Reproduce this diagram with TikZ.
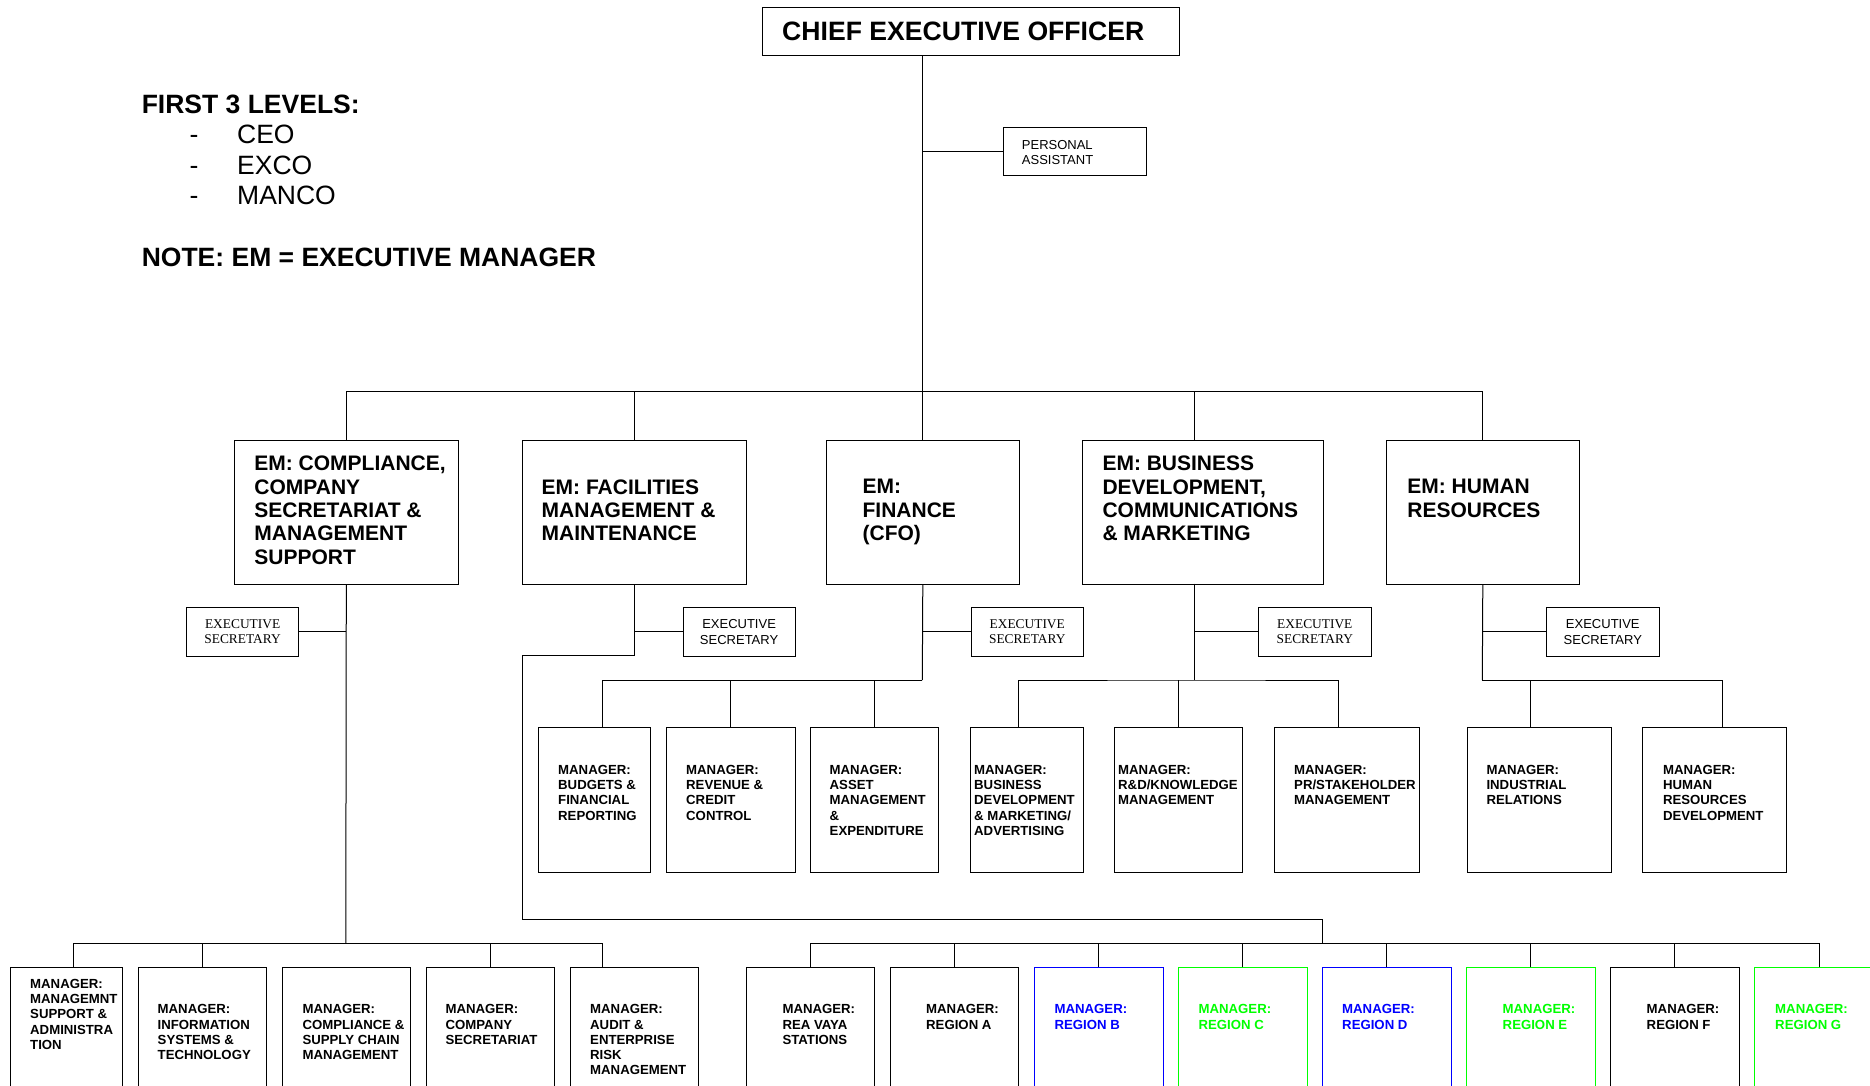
\documentclass[tikz,border=0pt]{standalone}
\usepackage{fontspec}
\setmainfont{Liberation Sans}
\newfontfamily\serifface{Liberation Serif}
\definecolor{rblue}{RGB}{0,0,255}
\definecolor{rgreen}{RGB}{0,255,0}
\tikzset{
  box/.style={draw, line width=1pt, inner sep=0pt, anchor=north west},
  lbl/.style={anchor=north west, inner sep=0pt, align=left},
  conn/.style={line width=1pt},
  mgr/.style={lbl, font=\bfseries\fontsize{13.2}{15.2}\selectfont},
  emt/.style={lbl, font=\bfseries\fontsize{21}{23.3}\selectfont},
  emb/.style={box, minimum height=144pt},
  mbox/.style={box, minimum height=144.4pt},
  bbox/.style={box, minimum height=140pt},
  secbox/.style={box, minimum height=48.3pt, align=center},
  sersec/.style={secbox, font=\serifface\fontsize{13.4}{15}\selectfont},
  sanssec/.style={secbox, font=\fontsize{13}{15.6}\selectfont},
  legbold/.style={anchor=base west, inner sep=0pt, font=\bfseries\fontsize{26.5}{30}\selectfont},
  legitem/.style={anchor=base west, inner sep=0pt, font=\fontsize{26.5}{30}\selectfont}
}
\begin{document}
\begin{tikzpicture}[x=1pt, y=-1pt]
\useasboundingbox (0,0) rectangle (1870,1086);
\clip (0,0) rectangle (1870,1086);

% ---------- legend ----------
\node[legbold] (leg1) at (141.6,113.3) {FIRST 3 LEVELS:};
\node[legitem] (leg2) at (189.5,144) {\makebox[47.5pt][l]{-}CEO};
\node[legitem] (leg3) at (189.5,174.3) {\makebox[47.5pt][l]{-}EXCO};
\node[legitem] (leg4) at (189.5,204.8) {\makebox[47.5pt][l]{-}MANCO};
\node[legbold] (leg5) at (141.6,266) {NOTE: EM = EXECUTIVE MANAGER};

% ---------- top ----------
\node[box, minimum width=417.1pt, minimum height=47.7pt] (ceo) at (761.5,7.3) {};
\node[anchor=west, inner sep=0pt, font=\bfseries\fontsize{26.6}{30}\selectfont] (ceot) at (782,31) {CHIEF EXECUTIVE OFFICER};
\node[box, minimum width=143.5pt, minimum height=48pt] (pa) at (1002.5,127) {};
\node[lbl, font=\fontsize{13}{15.5}\selectfont] (pat) at (1021.7,140) {PERSONAL\\ASSISTANT};

% ---------- executive managers ----------
\node[emb, minimum width=224.4pt] (em1) at (233.6,439.5) {};
\node[emb, minimum width=224.4pt] (em2) at (522,439.5) {};
\node[emb, minimum width=192.6pt] (em3) at (826,439.5) {};
\node[emb, minimum width=240.1pt] (em4) at (1082.4,439.5) {};
\node[emb, minimum width=193pt] (em5) at (1385.8,439.5) {};
\node[emt] (em1t) at (254.2,456) {EM: COMPLIANCE,\\COMPANY\\SECRETARIAT \&\\MANAGEMENT\\SUPPORT};
\node[emt] (em2t) at (541.5,479.3) {EM: FACILITIES\\MANAGEMENT \&\\MAINTENANCE};
\node[emt] (em3t) at (862.4,479.3) {EM:\\FINANCE\\(CFO)};
\node[emt] (em4t) at (1102.3,456) {EM: BUSINESS\\DEVELOPMENT,\\COMMUNICATIONS\\\& MARKETING};
\node[emt] (em5t) at (1407.2,479.3) {EM: HUMAN\\RESOURCES};

% ---------- executive secretaries ----------
\node[sersec, minimum width=112.6pt] (es1) at (185.8,607.3) {EXECUTIVE\\SECRETARY};
\node[sanssec, minimum width=112.2pt] (es2) at (682.5,607.3) {EXECUTIVE\\SECRETARY};
\node[sersec, minimum width=111.5pt] (es3) at (971,607.3) {EXECUTIVE\\SECRETARY};
\node[sersec, minimum width=112.6pt] (es4) at (1258,607.3) {EXECUTIVE\\SECRETARY};
\node[sanssec, minimum width=113pt] (es5) at (1545.8,607.3) {EXECUTIVE\\SECRETARY};

% ---------- middle managers ----------
\node[mbox, minimum width=112.9pt] (mb1) at (537.5,727.3) {};
\node[mbox, minimum width=128.6pt] (mb2) at (666,727.3) {};
\node[mbox, minimum width=128.2pt] (mb3) at (809.8,727.3) {};
\node[mbox, minimum width=112.6pt] (mb4) at (970,727.3) {};
\node[mbox, minimum width=127.2pt] (mb5) at (1114.3,727.3) {};
\node[mbox, minimum width=144.4pt] (mb6) at (1274.4,727.3) {};
\node[mbox, minimum width=144pt] (mb7) at (1466.7,727.3) {};
\node[mbox, minimum width=144pt] (mb8) at (1642.3,727.3) {};
\node[mgr] (mb1t) at (558,765) {MANAGER:\\BUDGETS \&\\FINANCIAL\\REPORTING};
\node[mgr] (mb2t) at (686,765) {MANAGER:\\REVENUE \&\\CREDIT\\CONTROL};
\node[mgr] (mb3t) at (829.5,765) {MANAGER:\\ASSET\\MANAGEMENT\\\&\\EXPENDITURE};
\node[mgr] (mb4t) at (974,765) {MANAGER:\\BUSINESS\\DEVELOPMENT\\\& MARKETING/\\ADVERTISING};
\node[mgr] (mb5t) at (1118,765) {MANAGER:\\R\&D/KNOWLEDGE\\MANAGEMENT};
\node[mgr] (mb6t) at (1294,765) {MANAGER:\\PR/STAKEHOLDER\\MANAGEMENT};
\node[mgr] (mb7t) at (1486.3,765) {MANAGER:\\INDUSTRIAL\\RELATIONS};
\node[mgr] (mb8t) at (1662.8,765) {MANAGER:\\HUMAN\\RESOURCES\\DEVELOPMENT};

% ---------- bottom row: compliance ----------
\node[bbox, minimum width=112pt] (b1) at (10,967.3) {};
\node[bbox, minimum width=128.6pt] (b2) at (137.7,967.3) {};
\node[bbox, minimum width=128pt] (b3) at (282,967.3) {};
\node[bbox, minimum width=128.6pt] (b4) at (425.7,967.3) {};
\node[bbox, minimum width=128pt] (b5) at (570,967.3) {};
\node[mgr] (b1t) at (30,979) {MANAGER:\\MANAGEMNT\\SUPPORT \&\\ADMINISTRA\\TION};
\node[mgr] (b2t) at (157.5,1004.5) {MANAGER:\\INFORMATION\\SYSTEMS \&\\TECHNOLOGY};
\node[mgr] (b3t) at (302.3,1004.5) {MANAGER:\\COMPLIANCE \&\\SUPPLY CHAIN\\MANAGEMENT};
\node[mgr] (b4t) at (445.4,1004.5) {MANAGER:\\COMPANY\\SECRETARIAT};
\node[mgr] (b5t) at (590,1004.5) {MANAGER:\\AUDIT \&\\ENTERPRISE\\RISK\\MANAGEMENT};

% ---------- bottom row: regions ----------
\node[bbox, minimum width=128.5pt] (r0) at (745.8,967.3) {};
\node[bbox, minimum width=128.5pt] (r1) at (889.9,967.3) {};
\node[bbox, minimum width=128.5pt, draw=rblue] (r2) at (1034,967.3) {};
\node[bbox, minimum width=128.5pt, draw=rgreen] (r3) at (1178,967.3) {};
\node[bbox, minimum width=128.5pt, draw=rblue] (r4) at (1322,967.3) {};
\node[bbox, minimum width=128.5pt, draw=rgreen] (r5) at (1466.2,967.3) {};
\node[bbox, minimum width=128.5pt] (r6) at (1610,967.3) {};
\node[bbox, minimum width=128.5pt, draw=rgreen] (r7) at (1754.3,967.3) {};
\node[mgr] (r0t) at (782.3,1004.5) {MANAGER:\\REA VAYA\\STATIONS};
\node[mgr] (r1t) at (926,1004.5) {MANAGER:\\REGION A};
\node[mgr, text=rblue] (r2t) at (1054.4,1004.5) {MANAGER:\\REGION B};
\node[mgr, text=rgreen] (r3t) at (1198.4,1004.5) {MANAGER:\\REGION C};
\node[mgr, text=rblue] (r4t) at (1342,1004.5) {MANAGER:\\REGION D};
\node[mgr, text=rgreen] (r5t) at (1502.5,1004.5) {MANAGER:\\REGION E};
\node[mgr] (r6t) at (1646.5,1004.5) {MANAGER:\\REGION F};
\node[mgr, text=rgreen] (r7t) at (1775,1004.5) {MANAGER:\\REGION G};

% ---------- junction coordinates ----------
\coordinate (busT) at (922.3,391.2);
\coordinate (em4top) at (1194.3,439.5);
\coordinate (em4bot) at (1194.3,583.5);
\coordinate (j1) at (345.8,943.3);
\coordinate (f2) at (522.3,655.7);
\coordinate (f4) at (1322,919);
\coordinate (j2) at (1322,943.3);
\coordinate (j3) at (922.3,680);
\coordinate (j4) at (1194.3,680);
\coordinate (j5) at (1482.3,680);
\coordinate (mb1top) at (602.2,727.3);
\coordinate (mb4top) at (1018,727.3);
\coordinate (mb6top) at (1338,727.3);
\coordinate (mb7top) at (1530.3,727.3);
\coordinate (mb8top) at (1722,727.3);
\coordinate (b1top) at (73.8,967.3);
\coordinate (b5top) at (602.3,967.3);

% ---------- connectors ----------
\draw[conn] (ceo.south -| em3.north) -- (em3.north);
\draw[conn] (pa.west) -- (pa.west -| em3.north);
\draw[conn] (em1.north) |- (busT) -| (em5.north);
\draw[conn] (em2.north) -- (em2.north |- busT);
\draw[conn] (em4top) -- (em4top |- busT);

% compliance branch
\draw[conn] (em1.south) -- (j1);
\draw[conn] (es1.east) -- (es1.east -| em1.south);
\draw[conn] (b1top) |- (j1) -| (b5top);
\draw[conn] (b2.north) -- (b2.north |- j1);
\draw[conn] (b4.north) -- (b4.north |- j1);

% facilities branch
\draw[conn] (em2.south) |- (es2.west);
\draw[conn] (em2.south) |- (f2) |- (f4) -- (j2);
\draw[conn] (r0.north) |- (j2) -| (r7.north);
\draw[conn] (r1.north) -- (r1.north |- j2);
\draw[conn] (r2.north) -- (r2.north |- j2);
\draw[conn] (r3.north) -- (r3.north |- j2);
\draw[conn] (r4.north) -- (r4.north |- j2);
\draw[conn] (r5.north) -- (r5.north |- j2);
\draw[conn] (r6.north) -- (r6.north |- j2);

% finance branch
\draw[conn] (em3.south) -- (j3);
\draw[conn] (es3.west) -- (es3.west -| j3);
\draw[conn] (mb1top) |- (j3);
\draw[conn] (mb2.north) -- (mb2.north |- j3);
\draw[conn] (mb3.north) -- (mb3.north |- j3);

% business development branch
\draw[conn] (em4bot) -- (j4);
\draw[conn] (es4.west) -- (es4.west -| j4);
\draw[conn] (mb4top) |- (j4) -| (mb6top);
\draw[conn] (mb5.north) -- (mb5.north |- j4);

% human resources branch
\draw[conn] (em5.south) -- (j5);
\draw[conn] (es5.west) -- (es5.west -| j5);
\draw[conn] (j5) -| (mb8top);
\draw[conn] (mb7top) -- (mb7top |- j5);
\end{tikzpicture}
\end{document}
